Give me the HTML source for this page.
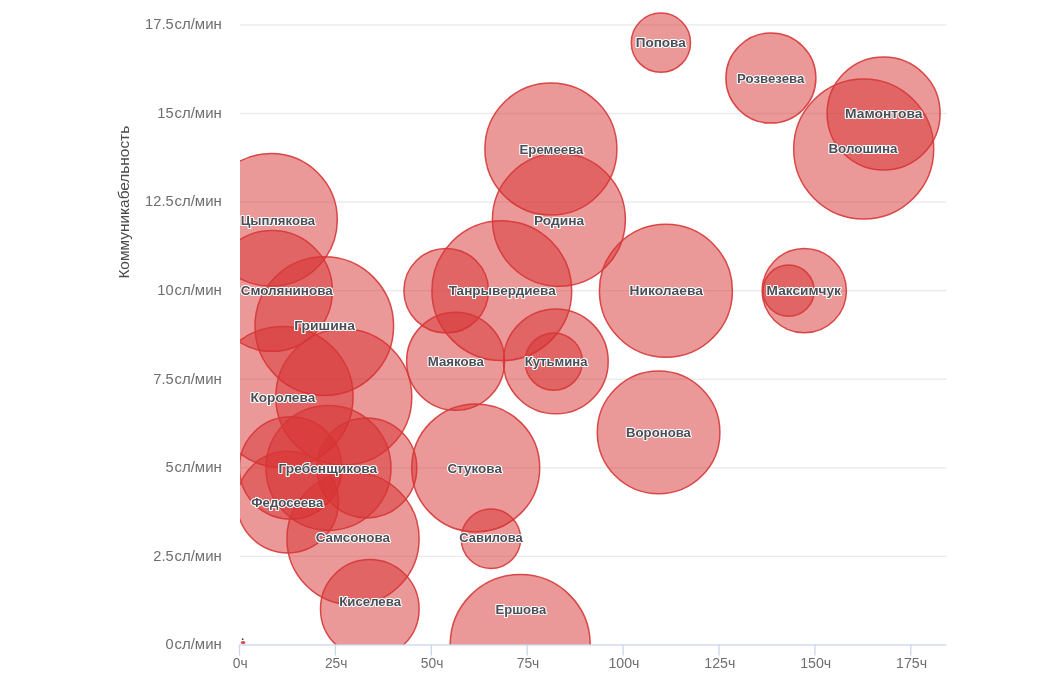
<!DOCTYPE html>
<html><head><meta charset="utf-8"><title>chart</title>
<style>
html,body{margin:0;padding:0;background:#fff;}
body{width:1060px;height:680px;overflow:hidden;font-family:"Liberation Sans",sans-serif;}
svg{display:block;filter:blur(0.55px)}
.ax{font-family:"Liberation Sans",sans-serif;font-size:13.8px;fill:#6e6e6e;}
.ti{font-family:"Liberation Sans",sans-serif;font-size:14.6px;fill:#4a4a4a;}
.lb{font-family:"Liberation Sans",sans-serif;font-size:12.9px;font-weight:bold;fill:#4a4e56;}
.lbg{font-family:"Liberation Sans",sans-serif;font-size:12.9px;font-weight:bold;fill:#fff;stroke:#fff;stroke-width:2.1;stroke-linejoin:round;}
</style></head><body>
<svg width="1060" height="680" viewBox="0 0 1060 680">
<defs><clipPath id="cp"><rect x="240.0" y="0" width="706.5" height="645.0"/></clipPath></defs>
<rect width="1060" height="680" fill="#fff"/>

<rect x="240.0" y="555.67" width="706.5" height="1.4" fill="#ebebeb"/>
<rect x="240.0" y="467.10" width="706.5" height="1.4" fill="#ebebeb"/>
<rect x="240.0" y="378.52" width="706.5" height="1.4" fill="#ebebeb"/>
<rect x="240.0" y="289.95" width="706.5" height="1.4" fill="#ebebeb"/>
<rect x="240.0" y="201.38" width="706.5" height="1.4" fill="#ebebeb"/>
<rect x="240.0" y="112.80" width="706.5" height="1.4" fill="#ebebeb"/>
<rect x="240.0" y="24.23" width="706.5" height="1.4" fill="#ebebeb"/>
<g clip-path="url(#cp)" fill="rgb(215,50,50)" fill-opacity="0.5" stroke="rgb(214,55,55)" stroke-opacity="0.9" stroke-width="1.5">
<circle cx="271.0" cy="219.8" r="66.3"/>
<circle cx="272.0" cy="290.9" r="60.4"/>
<circle cx="324.3" cy="326.1" r="69.3"/>
<circle cx="282.5" cy="397.0" r="70.6"/>
<circle cx="343.8" cy="397.0" r="68.0"/>
<circle cx="290.6" cy="467.9" r="51.2"/>
<circle cx="328.5" cy="467.9" r="62.5"/>
<circle cx="366.8" cy="467.9" r="50.0"/>
<circle cx="287.7" cy="502.1" r="50.8"/>
<circle cx="353.0" cy="538.7" r="66.1"/>
<circle cx="369.8" cy="608.9" r="49.3"/>
<circle cx="446.2" cy="290.7" r="42.3"/>
<circle cx="501.8" cy="290.7" r="69.9"/>
<circle cx="455.6" cy="361.3" r="49.0"/>
<circle cx="555.8" cy="361.4" r="52.4"/>
<circle cx="553.7" cy="361.6" r="28.7"/>
<circle cx="475.7" cy="467.9" r="64.0"/>
<circle cx="490.9" cy="538.7" r="29.7"/>
<circle cx="520.2" cy="644.6" r="70.0"/>
<circle cx="550.9" cy="149.0" r="66.0"/>
<circle cx="558.9" cy="219.8" r="66.5"/>
<circle cx="665.9" cy="290.7" r="66.5"/>
<circle cx="658.6" cy="432.4" r="61.3"/>
<circle cx="660.9" cy="42.7" r="29.6"/>
<circle cx="770.9" cy="78.1" r="45.0"/>
<circle cx="883.6" cy="113.5" r="56.5"/>
<circle cx="863.7" cy="149.0" r="70.0"/>
<circle cx="804.3" cy="290.7" r="42.1"/>
<circle cx="788.6" cy="290.7" r="25.6"/>
</g>
<ellipse cx="243.1" cy="642.6" rx="2.3" ry="1.5" fill="rgb(222,70,70)"/><circle cx="242.7" cy="639.2" r="0.9" fill="#5a3a3a"/>
<rect x="239.3" y="644.30" width="707.2" height="1.3" fill="#cad6ea"/>
<rect x="238.85" y="645.00" width="1.3" height="10.6" fill="#cad6ea"/>
<text class="ax" x="240.3" y="667.8" text-anchor="middle">0ч</text>
<rect x="334.75" y="645.00" width="1.3" height="10.6" fill="#cad6ea"/>
<text class="ax" x="336.2" y="667.8" text-anchor="middle">25ч</text>
<rect x="430.65" y="645.00" width="1.3" height="10.6" fill="#cad6ea"/>
<text class="ax" x="432.1" y="667.8" text-anchor="middle">50ч</text>
<rect x="526.55" y="645.00" width="1.3" height="10.6" fill="#cad6ea"/>
<text class="ax" x="528.0" y="667.8" text-anchor="middle">75ч</text>
<rect x="622.45" y="645.00" width="1.3" height="10.6" fill="#cad6ea"/>
<text class="ax" x="608.4" y="667.8" textLength="31" lengthAdjust="spacingAndGlyphs">100ч</text>
<rect x="718.35" y="645.00" width="1.3" height="10.6" fill="#cad6ea"/>
<text class="ax" x="704.3" y="667.8" textLength="31" lengthAdjust="spacingAndGlyphs">125ч</text>
<rect x="814.25" y="645.00" width="1.3" height="10.6" fill="#cad6ea"/>
<text class="ax" x="800.2" y="667.8" textLength="31" lengthAdjust="spacingAndGlyphs">150ч</text>
<rect x="910.15" y="645.00" width="1.3" height="10.6" fill="#cad6ea"/>
<text class="ax" x="896.1" y="667.8" textLength="31" lengthAdjust="spacingAndGlyphs">175ч</text>
<text class="ax" x="165.5" y="649.2" textLength="8.1" lengthAdjust="spacingAndGlyphs">0</text>
<text class="ax" x="174.4" y="649.2" textLength="47.4" lengthAdjust="spacingAndGlyphs">сл/мин</text>
<text class="ax" x="153.3" y="560.6" textLength="20.3" lengthAdjust="spacingAndGlyphs">2.5</text>
<text class="ax" x="174.4" y="560.6" textLength="47.4" lengthAdjust="spacingAndGlyphs">сл/мин</text>
<text class="ax" x="165.5" y="472.1" textLength="8.1" lengthAdjust="spacingAndGlyphs">5</text>
<text class="ax" x="174.4" y="472.1" textLength="47.4" lengthAdjust="spacingAndGlyphs">сл/мин</text>
<text class="ax" x="153.3" y="383.5" textLength="20.3" lengthAdjust="spacingAndGlyphs">7.5</text>
<text class="ax" x="174.4" y="383.5" textLength="47.4" lengthAdjust="spacingAndGlyphs">сл/мин</text>
<text class="ax" x="157.3" y="294.9" textLength="16.3" lengthAdjust="spacingAndGlyphs">10</text>
<text class="ax" x="174.4" y="294.9" textLength="47.4" lengthAdjust="spacingAndGlyphs">сл/мин</text>
<text class="ax" x="145.1" y="206.3" textLength="28.5" lengthAdjust="spacingAndGlyphs">12.5</text>
<text class="ax" x="174.4" y="206.3" textLength="47.4" lengthAdjust="spacingAndGlyphs">сл/мин</text>
<text class="ax" x="157.3" y="117.7" textLength="16.3" lengthAdjust="spacingAndGlyphs">15</text>
<text class="ax" x="174.4" y="117.7" textLength="47.4" lengthAdjust="spacingAndGlyphs">сл/мин</text>
<text class="ax" x="145.1" y="29.2" textLength="28.5" lengthAdjust="spacingAndGlyphs">17.5</text>
<text class="ax" x="174.4" y="29.2" textLength="47.4" lengthAdjust="spacingAndGlyphs">сл/мин</text>
<text class="ti" transform="translate(128.8,278.6) rotate(-90)" textLength="152.8" lengthAdjust="spacingAndGlyphs">Коммуникабельность</text>
<text class="lbg" x="635.7" y="47.0" textLength="50.1" lengthAdjust="spacingAndGlyphs">Попова</text>
<text class="lb" x="635.7" y="47.0" textLength="50.1" lengthAdjust="spacingAndGlyphs">Попова</text>
<text class="lbg" x="737.1" y="82.6" textLength="67.3" lengthAdjust="spacingAndGlyphs">Розвезева</text>
<text class="lb" x="737.1" y="82.6" textLength="67.3" lengthAdjust="spacingAndGlyphs">Розвезева</text>
<text class="lbg" x="845.1" y="118.3" textLength="77.3" lengthAdjust="spacingAndGlyphs">Мамонтова</text>
<text class="lb" x="845.1" y="118.3" textLength="77.3" lengthAdjust="spacingAndGlyphs">Мамонтова</text>
<text class="lbg" x="828.4" y="153.3" textLength="69.2" lengthAdjust="spacingAndGlyphs">Волошина</text>
<text class="lb" x="828.4" y="153.3" textLength="69.2" lengthAdjust="spacingAndGlyphs">Волошина</text>
<text class="lbg" x="629.5" y="294.7" textLength="73.4" lengthAdjust="spacingAndGlyphs">Николаева</text>
<text class="lb" x="629.5" y="294.7" textLength="73.4" lengthAdjust="spacingAndGlyphs">Николаева</text>
<text class="lbg" x="766.6" y="294.7" textLength="74.3" lengthAdjust="spacingAndGlyphs">Максимчук</text>
<text class="lb" x="766.6" y="294.7" textLength="74.3" lengthAdjust="spacingAndGlyphs">Максимчук</text>
<text class="lbg" x="626.1" y="436.5" textLength="64.8" lengthAdjust="spacingAndGlyphs">Воронова</text>
<text class="lb" x="626.1" y="436.5" textLength="64.8" lengthAdjust="spacingAndGlyphs">Воронова</text>
<text class="lbg" x="519.5" y="153.5" textLength="64.0" lengthAdjust="spacingAndGlyphs">Еремеева</text>
<text class="lb" x="519.5" y="153.5" textLength="64.0" lengthAdjust="spacingAndGlyphs">Еремеева</text>
<text class="lbg" x="533.9" y="224.8" textLength="50.3" lengthAdjust="spacingAndGlyphs">Родина</text>
<text class="lb" x="533.9" y="224.8" textLength="50.3" lengthAdjust="spacingAndGlyphs">Родина</text>
<text class="lbg" x="448.7" y="294.7" textLength="107.1" lengthAdjust="spacingAndGlyphs">Танрывердиева</text>
<text class="lb" x="448.7" y="294.7" textLength="107.1" lengthAdjust="spacingAndGlyphs">Танрывердиева</text>
<text class="lbg" x="427.7" y="365.6" textLength="56.3" lengthAdjust="spacingAndGlyphs">Маякова</text>
<text class="lb" x="427.7" y="365.6" textLength="56.3" lengthAdjust="spacingAndGlyphs">Маякова</text>
<text class="lbg" x="524.7" y="365.6" textLength="62.8" lengthAdjust="spacingAndGlyphs">Кутьмина</text>
<text class="lb" x="524.7" y="365.6" textLength="62.8" lengthAdjust="spacingAndGlyphs">Кутьмина</text>
<text class="lbg" x="240.7" y="224.5" textLength="74.5" lengthAdjust="spacingAndGlyphs">Цыплякова</text>
<text class="lb" x="240.7" y="224.5" textLength="74.5" lengthAdjust="spacingAndGlyphs">Цыплякова</text>
<text class="lbg" x="240.7" y="294.7" textLength="92.1" lengthAdjust="spacingAndGlyphs">Смолянинова</text>
<text class="lb" x="240.7" y="294.7" textLength="92.1" lengthAdjust="spacingAndGlyphs">Смолянинова</text>
<text class="lbg" x="294.2" y="329.6" textLength="60.7" lengthAdjust="spacingAndGlyphs">Гришина</text>
<text class="lb" x="294.2" y="329.6" textLength="60.7" lengthAdjust="spacingAndGlyphs">Гришина</text>
<text class="lbg" x="250.5" y="402.0" textLength="64.7" lengthAdjust="spacingAndGlyphs">Королева</text>
<text class="lb" x="250.5" y="402.0" textLength="64.7" lengthAdjust="spacingAndGlyphs">Королева</text>
<text class="lbg" x="278.6" y="472.7" textLength="98.6" lengthAdjust="spacingAndGlyphs">Гребенщикова</text>
<text class="lb" x="278.6" y="472.7" textLength="98.6" lengthAdjust="spacingAndGlyphs">Гребенщикова</text>
<text class="lbg" x="447.4" y="472.7" textLength="54.5" lengthAdjust="spacingAndGlyphs">Стукова</text>
<text class="lb" x="447.4" y="472.7" textLength="54.5" lengthAdjust="spacingAndGlyphs">Стукова</text>
<text class="lbg" x="251.3" y="506.8" textLength="72.1" lengthAdjust="spacingAndGlyphs">Федосеева</text>
<text class="lb" x="251.3" y="506.8" textLength="72.1" lengthAdjust="spacingAndGlyphs">Федосеева</text>
<text class="lbg" x="315.8" y="542.2" textLength="74.2" lengthAdjust="spacingAndGlyphs">Самсонова</text>
<text class="lb" x="315.8" y="542.2" textLength="74.2" lengthAdjust="spacingAndGlyphs">Самсонова</text>
<text class="lbg" x="459.3" y="542.2" textLength="63.4" lengthAdjust="spacingAndGlyphs">Савилова</text>
<text class="lb" x="459.3" y="542.2" textLength="63.4" lengthAdjust="spacingAndGlyphs">Савилова</text>
<text class="lbg" x="339.3" y="605.9" textLength="61.7" lengthAdjust="spacingAndGlyphs">Киселева</text>
<text class="lb" x="339.3" y="605.9" textLength="61.7" lengthAdjust="spacingAndGlyphs">Киселева</text>
<text class="lbg" x="495.5" y="613.8" textLength="50.7" lengthAdjust="spacingAndGlyphs">Ершова</text>
<text class="lb" x="495.5" y="613.8" textLength="50.7" lengthAdjust="spacingAndGlyphs">Ершова</text>
</svg></body></html>
